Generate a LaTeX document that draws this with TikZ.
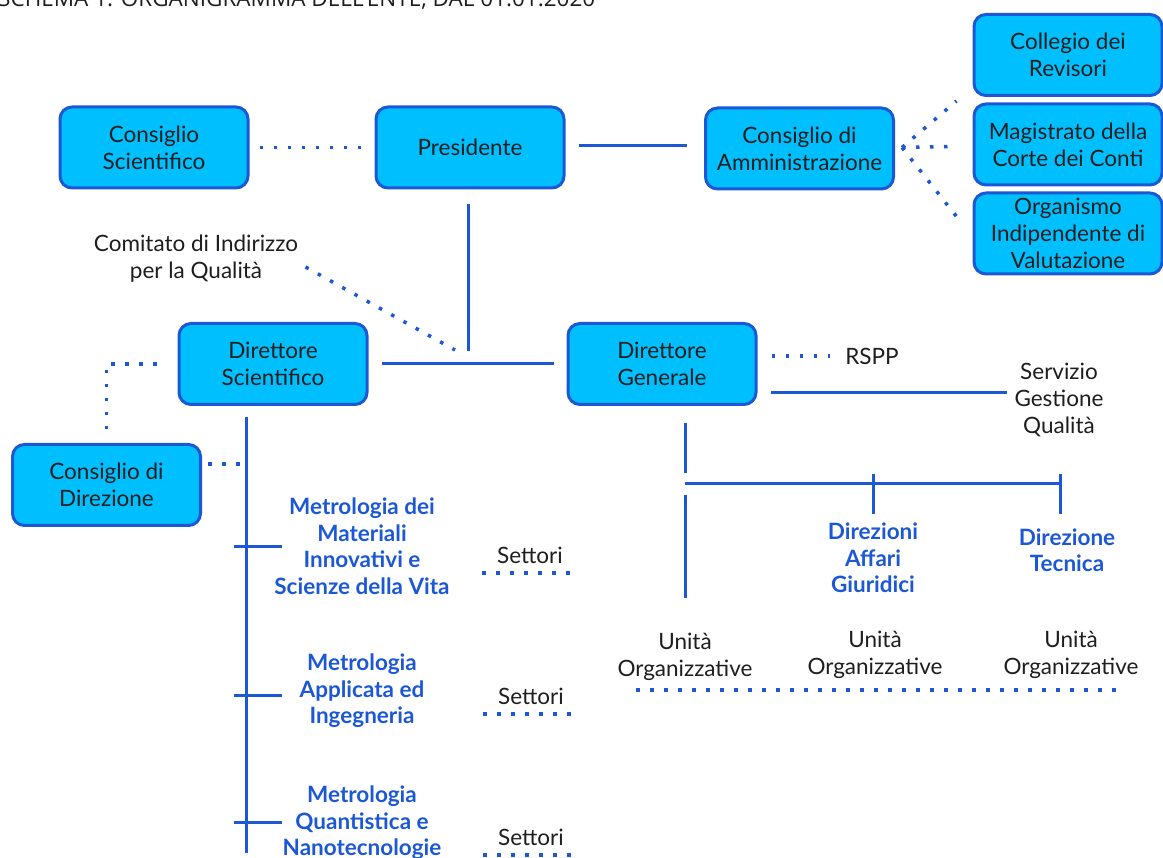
\documentclass[tikz,border=0pt]{standalone}
\usepackage{fontspec}
\setmainfont{Lato}
\newfontfamily\titlefont{Open Sans}
\usetikzlibrary{calc}
\definecolor{boxfill}{RGB}{0,191,255}
\definecolor{linecol}{RGB}{28,88,214}
\definecolor{txtcol}{RGB}{30,30,30}
\tikzset{
  orgbox/.style={draw=linecol, fill=boxfill, line width=3pt, rounded corners=12pt,
    minimum width=188pt, minimum height=81pt, align=center, text=txtcol,
    font=\fontsize{22.5}{27}\selectfont, inner sep=2pt},
  plain/.style={align=center, text=txtcol, font=\fontsize{22.5}{27}\selectfont},
  unit/.style={align=center, text=linecol, font=\bfseries\fontsize{22.5}{26.5}\selectfont},
  solidline/.style={draw=linecol, line width=3pt},
  dotline/.style={draw=linecol, line width=3.5pt, dash pattern=on 3.5pt off 10.5pt},
}
\begin{document}
\begin{tikzpicture}[x=1pt,y=-1pt]
\useasboundingbox (0,0) rectangle (1163,858);
\clip (0,0) rectangle (1163,858);
% title, cut at the top edge
\node[anchor=base west, inner sep=0pt, text=txtcol, font=\titlefont\fontsize{22.5}{24}\selectfont]
  (title) at (-2,7) {SCHEMA 1: ORGANIGRAMMA DELL'ENTE, DAL 01.01.2020};
% boxes
\node[orgbox] (cs)   at (154,147.5) {Consiglio\\Scientifico};
\node[orgbox] (pres) at (470,147.5) {Presidente};
\node[orgbox] (cda)  at (799.5,148.5) {Consiglio di\\Amministrazione};
\node[orgbox] (cdr)  at (1068,55) {Collegio dei\\Revisori};
\node[orgbox] (mag)  at (1068,144.5) {Magistrato della\\Corte dei Conti};
\node[orgbox] (oiv)  at (1068,233.5) {Organismo\\Indipendente di\\Valutazione};
\node[orgbox] (ds)   at (273,364) {Direttore\\Scientifico};
\node[orgbox] (dg)   at (662,364) {Direttore\\Generale};
\node[orgbox] (cdd)  at (106.5,485) {Consiglio di\\Direzione};
% plain labels
\node[plain] (cdiq) at (196,259) {Comitato di Indirizzo\\per la Qualità};
\node[plain] (rspp) at (872,356) {RSPP};
\node[plain] (sgq)  at (1059,400) {Servizio\\Gestione\\Qualità};
\node[plain] (set1) at (530,555) {Settori};
\node[plain] (set2) at (531,696) {Settori};
\node[plain] (set3) at (531,837) {Settori};
\node[plain] (uo1)  at (685,657) {Unità\\Organizzative};
\node[plain] (uo2)  at (875,655) {Unità\\Organizzative};
\node[plain] (uo3)  at (1071,655) {Unità\\Organizzative};
% units in blue
\node[unit] (mat) at (362,546) {Metrologia dei\\Materiali\\Innovativi e\\Scienze della Vita};
\node[unit] (app) at (362,691) {Metrologia\\Applicata ed\\Ingegneria};
\node[unit] (qua) at (362,823) {Metrologia\\Quantistica e\\Nanotecnologie};
\node[unit] (daf) at (873,558) {Direzioni\\Affari\\Giuridici};
\node[unit] (dte) at (1067,550) {Direzione\\Tecnica};
% junctions
\coordinate (jn) at (468,351);
\coordinate (dstop) at (246,417);
\coordinate (dsbot) at (246,853);
\coordinate (dgv) at (685,423);
\coordinate (hj) at (685,484);
\coordinate (tk1) at (873,484);
\coordinate (tk2) at (1060,484);
% top row
\draw[dotline] ([xshift=10pt]cs.east) -- ([xshift=-10pt]pres.west);
\draw[solidline] ([xshift=13pt,yshift=2pt]pres.east) -- ([xshift=-17pt,yshift=3pt]cda.west);
\draw[dotline] ([xshift=7pt,yshift=1pt]cda.east) -- ([xshift=-16pt,yshift=-4pt]cdr.south west);
\draw[dotline] ([xshift=7pt,yshift=1pt]cda.east) -- ([xshift=-21pt,yshift=-2pt]mag.west);
\draw[dotline] ([xshift=7pt,yshift=1pt]cda.east) -- ([xshift=-16pt,yshift=-25pt]oiv.north west);
% presidente down to the directors
\draw[solidline] ([yshift=-15pt]pres.south -| jn) -- (jn);
\draw[dotline] (cdiq.east) ++(4,8) -- ([xshift=-13pt,yshift=1pt]jn);
\draw[solidline] ([xshift=13pt]ds.east) -- ([xshift=-13pt]dg.west);
% direttore scientifico
\draw[dotline] ([xshift=-21pt]ds.west) -| ([yshift=10pt]cdd.north);
\draw[dotline] ([xshift=6pt,yshift=21pt]cdd.east) -- ([xshift=-6pt]cdd.east |- 0,464 -| dstop);
\draw[solidline] (dstop) -- (dsbot);
\foreach \n/\dy in {mat/-1,app/-4,qua/1}
  \draw[solidline] ([xshift=-12pt,yshift=\dy pt]\n.west -| dstop) -- ++(48,0);
\foreach \n in {set1,set2,set3}
  \draw[dotline] ([xshift=-48pt,yshift=-18pt]\n.center) -- ++(93,0);
% direttore generale
\draw[dotline] ([xshift=14pt,yshift=8pt]dg.east) -- ([xshift=-12pt]rspp.west);
\draw[solidline] ([xshift=13pt,yshift=-29pt]dg.east) -- ++(236,0);
\draw[solidline] (dgv) -- ([yshift=11pt]hj);
\draw[solidline] ([yshift=-11pt]hj) -- ++(0,103);
\draw[solidline] (hj) -- (tk2);
\foreach \t in {tk1,tk2}
  \draw[solidline] ([yshift=10pt]\t) -- ([yshift=-30pt]\t);
\draw[dotline] ([xshift=-49pt,yshift=-33pt]uo1.center) -- ([xshift=54pt,yshift=-35pt]uo3.center);
\end{tikzpicture}
\end{document}
